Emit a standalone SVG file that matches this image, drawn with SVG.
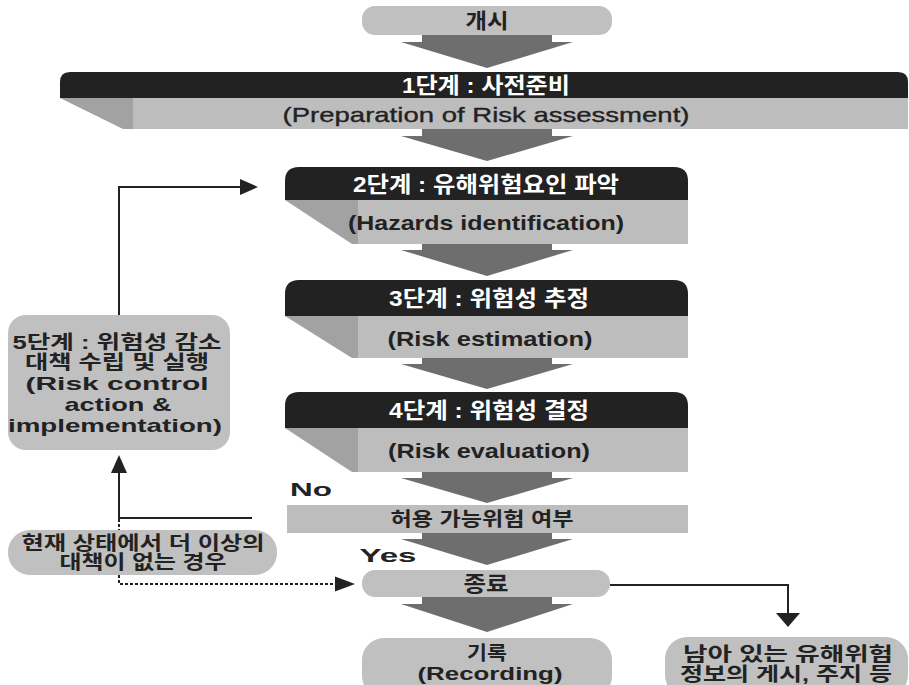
<svg xmlns="http://www.w3.org/2000/svg" width="909" height="685" viewBox="0 0 909 685">
<style>
text{font-family:"Liberation Sans","Noto Sans CJK KR",sans-serif;text-anchor:middle;dominant-baseline:central}
.w{fill:#ffffff;font-weight:bold;font-size:22px}
.d{fill:#222222;font-weight:bold;font-size:19px}
.e{fill:#222222;font-weight:bold;font-size:21px}
.r{fill:#222222;font-size:21px;stroke:#222222;stroke-width:0.35}
.hdr{fill:#222222}
.lg{fill:#bdbdbd}
.fold{fill:#a2a2a2}
.node{fill:#c0c0c0}
.big{fill:#6e6e6e}
.ln{fill:none;stroke:#222222;stroke-width:2}
.dash{fill:none;stroke:#222222;stroke-width:2;stroke-dasharray:3 2}
.ah{fill:#222222}
</style>
<g id="bigarrows">
<polygon class="big" points="422,35 552,35 552,42 573,42 487,68 401,42 422,42"/>
<polygon class="big" points="422,129 552,129 552,136 573,136 487,161 401,136 422,136"/>
<polygon class="big" points="422,244 552,244 552,250 573,250 487,276 401,250 422,250"/>
<polygon class="big" points="422,358 552,358 552,364 573,364 487,389 401,364 422,364"/>
<polygon class="big" points="422,472 552,472 552,478 573,478 487,503 401,478 422,478"/>
<polygon class="big" points="422,533 552,533 552,539 573,539 487,565 401,539 422,539"/>
<polygon class="big" points="422,597 552,597 552,604 573,604 487,632 401,604 422,604"/>
</g>
<g id="connectors">
<polyline class="ln" points="119,315 119,187 242,187"/>
<polygon class="ah" points="258,187 240,179 240,195"/>
<polyline class="ln" points="252,518 119,518 119,470"/>
<polygon class="ah" points="119,455 111,473 127,473"/>
<line class="dash" x1="119" y1="519" x2="119" y2="530"/>
<polyline class="dash" points="119,575 119,584 337,584"/>
<polygon class="ah" points="355,584 335,576.5 335,591.5"/>
<polyline class="ln" points="610,585 788,585 788,614"/>
<polygon class="ah" points="788,627 776,613 800,613"/>
</g>
<g id="start">
<rect class="node" x="362" y="6" width="250" height="29" rx="13"/>
<text class="e" x="487" y="20" textLength="43" lengthAdjust="spacingAndGlyphs">개시</text>
</g>
<g id="step1">
<path class="hdr" d="M60,98 V82 Q60,72 70,72 H898 Q908,72 908,82 V98 Z"/>
<rect class="lg" x="133" y="98" width="775" height="31"/>
<polygon class="fold" points="60,98 133,98 133,129 123,129"/>
<text class="w" x="486" y="85" font-size="21" textLength="168" lengthAdjust="spacingAndGlyphs">1단계 : 사전준비</text>
<text class="r" x="486" y="114" textLength="407" lengthAdjust="spacingAndGlyphs">(Preparation of Risk assessment)</text>
</g>
<g id="step2">
<path class="hdr" d="M285,200 V181 Q285,167 299,167 H674 Q688,167 688,181 V200 Z"/>
<rect class="lg" x="358" y="200" width="330" height="44"/>
<polygon class="fold" points="285,200 358,200 358,244 352,244"/>
<text class="w" x="486" y="184" textLength="266" lengthAdjust="spacingAndGlyphs">2단계 : 유해위험요인 파악</text>
<text class="e" x="486" y="222" textLength="276" lengthAdjust="spacingAndGlyphs">(Hazards identification)</text>
</g>
<g id="step3">
<path class="hdr" d="M285,316 V294 Q285,280 299,280 H674 Q688,280 688,294 V316 Z"/>
<rect class="lg" x="358" y="316" width="330" height="42"/>
<polygon class="fold" points="285,316 358,316 358,358 352,358"/>
<text class="w" x="489" y="298" textLength="200" lengthAdjust="spacingAndGlyphs">3단계 : 위험성 추정</text>
<text class="e" x="490" y="338" textLength="205" lengthAdjust="spacingAndGlyphs">(Risk estimation)</text>
</g>
<g id="step4">
<path class="hdr" d="M285,428 V406 Q285,392 299,392 H674 Q688,392 688,406 V428 Z"/>
<rect class="lg" x="358" y="428" width="330" height="44"/>
<polygon class="fold" points="285,428 358,428 358,472 352,472"/>
<text class="w" x="489" y="410" textLength="200" lengthAdjust="spacingAndGlyphs">4단계 : 위험성 결정</text>
<text class="e" x="489" y="450" textLength="202" lengthAdjust="spacingAndGlyphs">(Risk evaluation)</text>
</g>
<g id="decision">
<rect class="lg" x="287" y="505" width="401" height="28"/>
<text class="d" x="482" y="519" font-size="20" textLength="183" lengthAdjust="spacingAndGlyphs">허용 가능위험 여부</text>
</g>
<g id="labels">
<text class="d" x="311" y="489" font-size="21" textLength="42" lengthAdjust="spacingAndGlyphs">No</text>
<text class="d" x="388" y="555" font-size="21" textLength="57" lengthAdjust="spacingAndGlyphs">Yes</text>
</g>
<g id="end">
<rect class="node" x="362" y="570" width="248" height="27" rx="13"/>
<text class="e" x="486" y="583" font-size="20" textLength="45" lengthAdjust="spacingAndGlyphs">종료</text>
</g>
<g id="record">
<rect class="node" x="362" y="638" width="250" height="60" rx="22"/>
<text class="d" x="487" y="653" textLength="40" lengthAdjust="spacingAndGlyphs">기록</text>
<text class="d" x="490" y="673" textLength="145" lengthAdjust="spacingAndGlyphs">(Recording)</text>
</g>
<g id="residual">
<rect class="node" x="665" y="637" width="243" height="60" rx="22"/>
<text class="d" x="788" y="654" textLength="210" lengthAdjust="spacingAndGlyphs">남아 있는 유해위험</text>
<text class="d" x="786" y="674" textLength="212" lengthAdjust="spacingAndGlyphs">정보의 게시, 주지 등</text>
</g>
<g id="step5">
<rect class="node" x="8" y="315" width="222" height="135" rx="18"/>
<text class="d" x="117" y="342" font-size="20" textLength="209" lengthAdjust="spacingAndGlyphs">5단계 : 위험성 감소</text>
<text class="d" x="117" y="362" font-size="20" textLength="184" lengthAdjust="spacingAndGlyphs">대책 수립 및 실행</text>
<text class="d" x="117" y="383" font-size="20" textLength="183" lengthAdjust="spacingAndGlyphs">(Risk control</text>
<text class="d" x="118" y="404" font-size="20" textLength="107" lengthAdjust="spacingAndGlyphs">action &amp;</text>
<text class="d" x="115" y="425" font-size="20" textLength="214" lengthAdjust="spacingAndGlyphs">implementation)</text>
</g>
<g id="nofurther">
<rect class="node" x="8" y="530" width="269" height="45" rx="22"/>
<text class="d" x="143" y="543" textLength="243" lengthAdjust="spacingAndGlyphs">현재 상태에서 더 이상의</text>
<text class="d" x="143" y="562" textLength="167" lengthAdjust="spacingAndGlyphs">대책이 없는 경우</text>
</g>
</svg>
